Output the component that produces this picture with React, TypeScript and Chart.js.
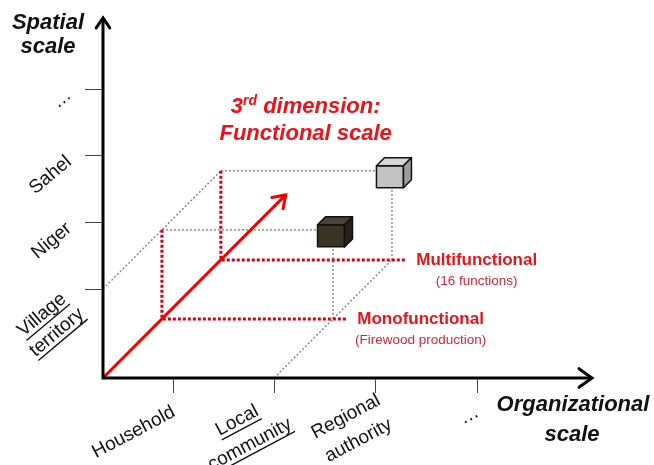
import React, { useEffect, useRef } from 'react';
import { Chart, registerables } from 'chart.js';

Chart.register(...registerables);

// ---------------- data ----------------
const organizationalLevels = ['Household', 'Local community', 'Regional authority', '…'];
const organizationalUnderlined = [false, true, false, false];
const spatialLevels = ['Village territory', 'Niger', 'Sahel', '…'];
const spatialUnderlined = [true, false, false, false];
const functionalLevels = ['Monofunctional', 'Multifunctional'];
const functionalNotes = ['(Firewood production)', '(16 functions)'];
// studied cases: organizational level, spatial level, functional level (1-based)
const caseOrganizational = [2, 2];
const caseSpatial = [1, 1];
const caseFunctional = [1, 2];
const functionalArrowExtent = 3.1;

// ---------------- layout / style constants ----------------
const X_MIN = 0.31;
const X_MAX = 5.14;
const Y_MIN = -0.335;
const Y_MAX = 5.06;
const FX = 0.582; // oblique projection of the functional axis (x units per level)
const FY = 0.885; // (y units per level)
const GUIDE_END = 2.13;
const LABEL_START = 2.24;

const SANS = '"Liberation Sans", Arial, sans-serif';
const RED = '#e8131b';
const DOT_RED = '#d00010';
const GRAY = '#8a8a8a';

const proj = (o: number, s: number, f: number) => ({ x: o + f * FX, y: s + f * FY });

function drawRotated(ctx: CanvasRenderingContext2D, text: string, ax: number, ay: number, deg: number, underline: boolean, lineH: number) {
  const lines = text.split(' ');
  ctx.save();
  ctx.translate(ax, ay);
  ctx.rotate((deg * Math.PI) / 180);
  const W = Math.max(...lines.map((l) => ctx.measureText(l).width));
  const n = lines.length;
  ctx.textAlign = 'center';
  ctx.textBaseline = 'middle';
  lines.forEach((l, i) => {
    const y = (i - (n - 1) / 2) * lineH;
    ctx.fillText(l, -W / 2, y);
    if (underline) {
      const w = ctx.measureText(l).width;
      ctx.fillRect(-W / 2 - w / 2, y + 9, w, 1.4);
    }
  });
  ctx.restore();
}

function drawCube(ctx: CanvasRenderingContext2D, cx: number, cy: number, front: string, top: string, side: string) {
  const w = 27, h = 22, d = 8;
  const l = cx - w / 2, t = cy - h / 2;
  ctx.save();
  ctx.lineWidth = 1.5;
  ctx.strokeStyle = '#111';
  ctx.lineJoin = 'round';
  ctx.fillStyle = front;
  ctx.beginPath();
  ctx.rect(l, t, w, h);
  ctx.fill();
  ctx.stroke();
  ctx.fillStyle = top;
  ctx.beginPath();
  ctx.moveTo(l, t);
  ctx.lineTo(l + d, t - d);
  ctx.lineTo(l + w + d, t - d);
  ctx.lineTo(l + w, t);
  ctx.closePath();
  ctx.fill();
  ctx.stroke();
  ctx.fillStyle = side;
  ctx.beginPath();
  ctx.moveTo(l + w, t);
  ctx.lineTo(l + w + d, t - d);
  ctx.lineTo(l + w + d, t + h - d);
  ctx.lineTo(l + w, t + h);
  ctx.closePath();
  ctx.fill();
  ctx.stroke();
  ctx.restore();
}

function chevron(ctx: CanvasRenderingContext2D, tipX: number, tipY: number, angle: number, len: number, spread: number) {
  ctx.beginPath();
  ctx.moveTo(tipX - len * Math.cos(angle - spread), tipY - len * Math.sin(angle - spread));
  ctx.lineTo(tipX, tipY);
  ctx.lineTo(tipX - len * Math.cos(angle + spread), tipY - len * Math.sin(angle + spread));
  ctx.stroke();
}

const diagramPlugin = {
  id: 'diagram',
  afterDatasetsDraw(chart: any) {
    const ctx: CanvasRenderingContext2D = chart.ctx;
    const xs = chart.scales.x;
    const ys = chart.scales.y;
    const px = (v: number) => xs.getPixelForValue(v);
    const py = (v: number) => ys.getPixelForValue(v);
    const ox = px(X_MIN), oy = py(Y_MIN), right = px(X_MAX), top = py(Y_MAX);

    // red arrow head
    const a0 = proj(X_MIN, Y_MIN, 0);
    const a1 = proj(X_MIN, Y_MIN, functionalArrowExtent);
    const tx = px(a1.x), ty = py(a1.y);
    ctx.save();
    ctx.strokeStyle = '#f00000';
    ctx.lineWidth = 3;
    ctx.lineCap = 'round';
    ctx.lineJoin = 'miter';
    chevron(ctx, tx, ty, Math.atan2(ty - py(a0.y), tx - px(a0.x)), 14, 0.6);
    ctx.restore();

    // axes
    ctx.save();
    ctx.strokeStyle = '#000';
    ctx.lineWidth = 3;
    ctx.lineJoin = 'miter';
    ctx.lineCap = 'butt';
    ctx.beginPath();
    ctx.moveTo(ox, top);
    ctx.lineTo(ox, oy);
    ctx.lineTo(right, oy);
    ctx.stroke();
    ctx.lineCap = 'round';
    chevron(ctx, right, oy, 0, 16, 0.62);
    chevron(ctx, ox, top, -Math.PI / 2, 12, 0.6);
    // ticks
    ctx.lineWidth = 1;
    ctx.strokeStyle = '#444';
    ctx.lineCap = 'butt';
    organizationalLevels.forEach((_, i) => {
      const x = Math.round(px(i + 1)) + 0.5;
      ctx.beginPath();
      ctx.moveTo(x, oy + 1);
      ctx.lineTo(x, oy + 15);
      ctx.stroke();
    });
    spatialLevels.forEach((_, i) => {
      const y = Math.round(py(i + 1)) + 0.5;
      ctx.beginPath();
      ctx.moveTo(ox - 18, y);
      ctx.lineTo(ox - 1, y);
      ctx.stroke();
    });
    ctx.restore();

    // tick labels
    ctx.save();
    ctx.fillStyle = '#111';
    ctx.font = `19px ${SANS}`;
    organizationalLevels.forEach((lab, i) => {
      const multi = lab.includes(' ');
      drawRotated(ctx, lab, px(i + 1) + (multi ? 10 : 1), oy + 33, -28, organizationalUnderlined[i], 27);
    });
    spatialLevels.forEach((lab, i) => {
      const multi = lab.includes(' ');
      drawRotated(ctx, lab, ox - 34 + (multi ? 5 : 0), py(i + 1) + 4 + (multi ? 10 : 0), -40, spatialUnderlined[i], 23);
    });
    ctx.restore();

    // axis titles
    ctx.save();
    ctx.fillStyle = '#111';
    ctx.font = `italic bold 22px ${SANS}`;
    ctx.textAlign = 'center';
    ctx.textBaseline = 'middle';
    ctx.fillText('Spatial', ox - 55, top + 5);
    ctx.fillText('scale', ox - 55, top + 29);
    ctx.fillText('Organizational', right - 19, oy + 27);
    ctx.fillText('scale', right - 20, oy + 57);
    ctx.restore();

    // functional axis title
    ctx.save();
    ctx.fillStyle = RED;
    ctx.textBaseline = 'middle';
    ctx.textAlign = 'left';
    const cX = px(a1.x) + 20;
    const big = `italic bold 22px ${SANS}`;
    const small = `italic bold 14px ${SANS}`;
    ctx.font = big;
    const w3 = ctx.measureText('3').width;
    const wRest = ctx.measureText(' dimension:').width;
    ctx.font = small;
    const wSup = ctx.measureText('rd').width;
    const x0 = cX - (w3 + wSup + wRest) / 2;
    const y1 = py(a1.y) - 88;
    ctx.font = big;
    ctx.fillText('3', x0, y1);
    ctx.font = small;
    ctx.fillText('rd', x0 + w3, y1 - 6);
    ctx.font = big;
    ctx.fillText(' dimension:', x0 + w3 + wSup, y1);
    ctx.textAlign = 'center';
    ctx.fillText('Functional scale', cX, y1 + 27);
    ctx.restore();

    // functional level labels
    ctx.save();
    functionalLevels.forEach((lab, i) => {
      const p = proj(LABEL_START, Y_MIN, i + 1);
      const lx = px(p.x), ly = py(p.y);
      ctx.font = `bold 17px ${SANS}`;
      ctx.fillStyle = RED;
      ctx.textAlign = 'left';
      ctx.textBaseline = 'middle';
      ctx.fillText(lab, lx, ly);
      const w = ctx.measureText(lab).width;
      ctx.font = `13.5px ${SANS}`;
      ctx.fillStyle = '#cc2a36';
      ctx.textAlign = 'center';
      ctx.fillText(functionalNotes[i], lx + w / 2, ly + 21);
    });
    ctx.restore();

    // cubes
    caseFunctional.forEach((f, i) => {
      const p = proj(caseOrganizational[i], caseSpatial[i], f);
      const cx = px(p.x) - 2, cy = py(p.y) + 6;
      if (f === 1) drawCube(ctx, cx, cy, '#3b3424', '#4d4533', '#27231a');
      else drawCube(ctx, cx, cy, '#c2c2c2', '#d6d6d6', '#9c9c9c');
    });
  },
};

function buildDatasets() {
  const ds: any[] = [];
  const line = (pts: { x: number; y: number }[], color: string, width: number, dash: number[]) => ({
    data: pts,
    showLine: true,
    borderColor: color,
    borderWidth: width,
    borderDash: dash,
    borderCapStyle: 'butt',
    pointRadius: 0,
    fill: false,
    tension: 0,
    clip: false,
  });
  // functional axis arrow shaft (first = drawn on top)
  ds.push(line([proj(X_MIN, Y_MIN, 0), proj(X_MIN, Y_MIN, functionalArrowExtent)], '#f00000', 3, []));
  // red dotted guides for each functional level
  functionalLevels.forEach((_, i) => {
    const f = i + 1;
    ds.push(line([proj(X_MIN, 1, f), proj(X_MIN, Y_MIN, f), proj(GUIDE_END, Y_MIN, f)], DOT_RED, 3, [3, 2]));
  });
  // gray dotted construction lines
  const fMax = functionalLevels.length;
  ds.push(line([proj(X_MIN, caseSpatial[0], 0), proj(X_MIN, caseSpatial[0], fMax)], GRAY, 1.5, [2, 2]));
  ds.push(line([proj(caseOrganizational[0], Y_MIN, 0), proj(caseOrganizational[0], Y_MIN, fMax)], GRAY, 1.5, [2, 2]));
  caseFunctional.forEach((f, i) => {
    const o = caseOrganizational[i], s = caseSpatial[i];
    ds.push(line([proj(X_MIN, s, f), proj(o, s, f)], GRAY, 1.5, [2, 2]));
    ds.push(line([proj(o, Y_MIN, f), proj(o, s, f)], GRAY, 1.5, [2, 2]));
  });
  return ds;
}

export default function App() {
  const ref = useRef<HTMLCanvasElement | null>(null);
  useEffect(() => {
    if (!ref.current) return;
    const chart = new Chart(ref.current, {
      type: 'scatter',
      data: { datasets: buildDatasets() },
      options: {
        animation: false,
        responsive: false,
        maintainAspectRatio: false,
        events: [],
        layout: { padding: { left: 103, top: 18, right: 62, bottom: 87 } },
        scales: {
          x: { type: 'linear', min: X_MIN, max: X_MAX, display: false },
          y: { type: 'linear', min: Y_MIN, max: Y_MAX, display: false },
        },
        plugins: { legend: { display: false }, tooltip: { enabled: false } },
      },
      plugins: [diagramPlugin],
    } as any);
    return () => chart.destroy();
  }, []);
  return (
    <div style={{ position: 'absolute', left: 0, top: 0, width: 654, height: 465, background: '#fff' }}>
      <canvas ref={ref} width={654} height={465} style={{ display: 'block' }} />
    </div>
  );
}
